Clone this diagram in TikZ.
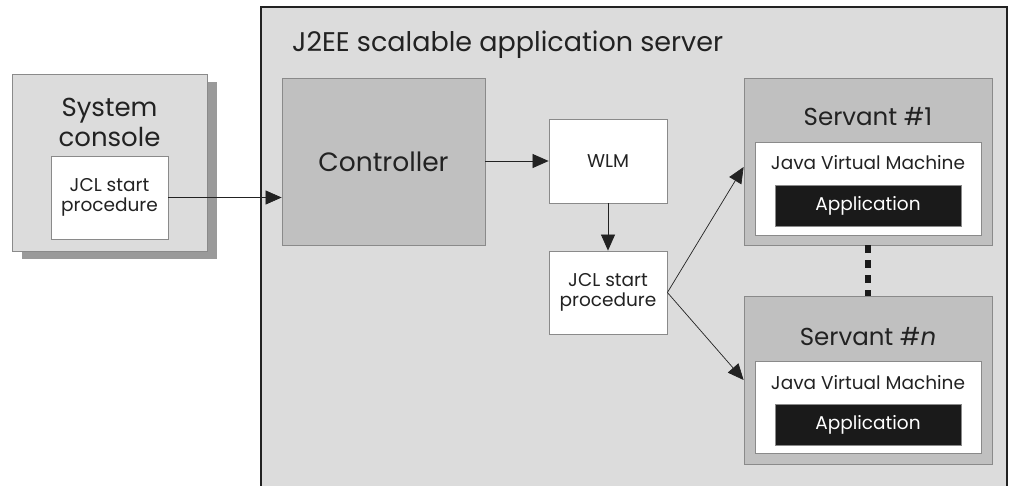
\documentclass[tikz,border=0pt]{standalone}
\usepackage{fontspec}
\setmainfont{Poppins}
\usetikzlibrary{arrows.meta}
\definecolor{bgray}{HTML}{DCDCDC}
\definecolor{mgray}{HTML}{C0C0C0}
\definecolor{sgray}{HTML}{9A9A9A}
\definecolor{edge}{HTML}{8A8A8A}
\definecolor{ink}{HTML}{222222}
\definecolor{appblack}{HTML}{1A1A1A}
\tikzset{
  box/.style={draw=edge, line width=0.8pt, inner sep=0pt, text=ink, align=center},
  whitebox/.style={box, fill=white},
  graybox/.style={box, fill=mgray},
  smalltext/.style={font=\fontsize{18.5}{20.5}\selectfont},
  bigtext/.style={font=\fontsize{26.5}{30}\selectfont},
  appbox/.style={draw=edge, line width=0.8pt, fill=appblack, text=white, inner sep=0pt,
    minimum width=186pt, minimum height=41pt, smalltext},
  conn/.style={draw=ink, line width=0.7pt, -{Triangle[length=16pt,width=14pt]}},
  lbl/.style={text=ink, inner sep=0pt, align=center}
}
\begin{document}
\begin{tikzpicture}[x=1pt,y=-1pt]
\useasboundingbox (0,0) rectangle (1009,485);
\fill[white] (0,0) rectangle (1009,485);
% server box
\begin{scope}
\clip (0,0) rectangle (1009,485);
\draw[fill=bgray, draw=ink, line width=1.5pt] (261,7) rectangle (1007,500);
\end{scope}
\node[lbl, anchor=west, font=\fontsize{27}{30}\selectfont] (title) at (292,45) {J2EE scalable application server};
% system console
\fill[sgray] (22,82) rectangle (217,259);
\node[box, fill=bgray, minimum width=195pt, minimum height=177pt] (console) at (109.5,162.5) {};
\node[lbl, font=\fontsize{26}{30}\selectfont] (consoletxt) at (109.5,122) {System\\console};
\node[whitebox, minimum width=117pt, minimum height=83pt, smalltext] (jcl1) at (109.5,197.5) {JCL start\\procedure};
% controller
\node[graybox, minimum width=203pt, minimum height=167pt, bigtext] (ctrl) at (383.5,161.5) {Controller};
% WLM
\node[whitebox, minimum width=118pt, minimum height=84pt, smalltext] (wlm) at (608,161) {WLM};
\node[whitebox, minimum width=118pt, minimum height=83pt, smalltext] (jcl2) at (608,292.5) {JCL start\\procedure};
% servant 1
\node[graybox, minimum width=248pt, minimum height=167pt] (s1) at (868,161.5) {};
\node[lbl, font=\fontsize{24.5}{28}\selectfont] (s1t) at (868,117) {Servant \#1};
\node[whitebox, minimum width=226pt, minimum height=93pt] (jvm1) at (868,188.5) {};
\node[lbl, smalltext] (jvm1t) at (868,163) {Java Virtual Machine};
\node[appbox] (app1) at (868,205.5) {Application};
% servant n
\node[graybox, minimum width=248pt, minimum height=168pt] (sn) at (868,380) {};
\node[lbl, font=\fontsize{24.5}{28}\selectfont] (snt) at (868,337) {Servant \#\textit{n}};
\node[whitebox, minimum width=226pt, minimum height=92pt] (jvmn) at (868,407) {};
\node[lbl, smalltext] (jvmnt) at (868,383) {Java Virtual Machine};
\node[appbox] (appn) at (868,424.5) {Application};
% connectors
\draw[conn] (jcl1.east) -- (jcl1.east -| ctrl.west);
\draw[conn] (ctrl.east |- wlm.west) -- (wlm.west);
\draw[conn] (wlm.south) -- (jcl2.north);
\draw[conn] (jcl2.east) -- ([yshift=-5.5pt]s1.west);
\draw[conn] (jcl2.east) -- (sn.west);
\draw[draw=appblack, line width=6pt, dash pattern=on 8pt off 7pt] (s1.south) -- (sn.north);
\end{tikzpicture}
\end{document}
